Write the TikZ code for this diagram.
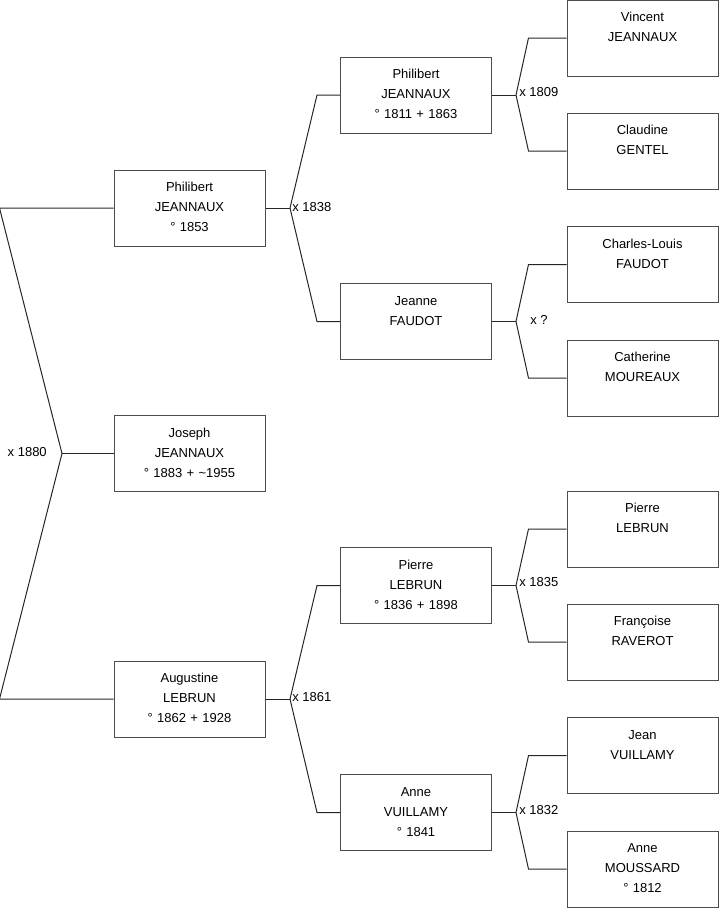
\documentclass[tikz,border=0pt]{standalone}
\usepackage{fontspec}
\setmainfont{Liberation Sans}

\begin{document}
\begin{tikzpicture}[
  x=0.75pt, y=-0.75pt,
  person/.style={draw=black!70, line width=0.75pt, text width=105.25pt, align=center,
                 inner xsep=4pt, inner ysep=4pt, text height=12.25pt, text depth=36.75pt,
                 font=\fontsize{9.75}{15}\selectfont},
  link/.style={draw=black!85, line width=0.75pt},
  wed/.style={font=\fontsize{9.75}{12}\selectfont, inner sep=0pt, anchor=west},
]
\useasboundingbox (0,0) rectangle (719,908);

%% ── GENERATION 0 ─────────────────────────────────────────────────────────────
\node[person] (joseph) at (189.5,453.5) {Joseph\\JEANNAUX\\° 1883 + \textasciitilde1955};

%% ── GENERATION 1: Parents ────────────────────────────────────────────────────
\node[person] (phil1) at (189.5,208) {Philibert\\JEANNAUX\\° 1853};
\node[person] (aug1)  at (189.5,699) {Augustine\\LEBRUN\\° 1862 + 1928};

%% ── GENERATION 2: Grandparents ───────────────────────────────────────────────
\node[person] (phil2)   at (416,95)    {Philibert\\JEANNAUX\\° 1811 + 1863};
\node[person] (jeanne2) at (416,321.5) {Jeanne\\FAUDOT};
\node[person] (pierre2) at (416,585.5) {Pierre\\LEBRUN\\° 1836 + 1898};
\node[person] (anne2)   at (416,812.5) {Anne\\VUILLAMY\\° 1841};

%% ── GENERATION 3: Great-grandparents ─────────────────────────────────────────
\node[person] (vincent3)   at (642.5,38)    {Vincent\\JEANNAUX};
\node[person] (claudine3)  at (642.5,151)   {Claudine\\GENTEL};
\node[person] (charles3)   at (642.5,264.5) {Charles-Louis\\FAUDOT};
\node[person] (catherine3) at (642.5,378)   {Catherine\\MOUREAUX};
\node[person] (pierre3)    at (642.5,529)   {Pierre\\LEBRUN};
\node[person] (francoise3) at (642.5,642)   {Françoise\\RAVEROT};
\node[person] (jean3)      at (642.5,755.5) {Jean\\VUILLAMY};
\node[person] (anne3)      at (642.5,869)   {Anne\\MOUSSARD\\° 1812};

%% ── JUNCTIONS ────────────────────────────────────────────────────────────────
\coordinate (m0) at (62,453.5);
\coordinate (m1) at (290,208);
\coordinate (m2) at (290,699);
\coordinate (m3) at (516,95);
\coordinate (m4) at (516,321.5);
\coordinate (m5) at (516,585.5);
\coordinate (m6) at (516,812.5);

%% ── CONNECTORS ───────────────────────────────────────────────────────────────
\draw[link] (joseph.west) -- (m0);
\draw[link] (m0) -- ([shift={(-114,0)}]phil1.west) -- (phil1.west);
\draw[link] (m0) -- ([shift={(-114,0)}]aug1.west) -- (aug1.west);

\draw[link] (phil1.east) -- (m1);
\draw[link] (m1) -- ([shift={(-23,0)}]phil2.west) -- (phil2.west);
\draw[link] (m1) -- ([shift={(-23,0)}]jeanne2.west) -- (jeanne2.west);
\draw[link] (aug1.east) -- (m2);
\draw[link] (m2) -- ([shift={(-23,0)}]pierre2.west) -- (pierre2.west);
\draw[link] (m2) -- ([shift={(-23,0)}]anne2.west) -- (anne2.west);

\draw[link] (phil2.east) -- (m3);
\draw[link] (m3) -- ([shift={(-38,0)}]vincent3.west) -- (vincent3.west);
\draw[link] (m3) -- ([shift={(-38,0)}]claudine3.west) -- (claudine3.west);
\draw[link] (jeanne2.east) -- (m4);
\draw[link] (m4) -- ([shift={(-38,0)}]charles3.west) -- (charles3.west);
\draw[link] (m4) -- ([shift={(-38,0)}]catherine3.west) -- (catherine3.west);
\draw[link] (pierre2.east) -- (m5);
\draw[link] (m5) -- ([shift={(-38,0)}]pierre3.west) -- (pierre3.west);
\draw[link] (m5) -- ([shift={(-38,0)}]francoise3.west) -- (francoise3.west);
\draw[link] (anne2.east) -- (m6);
\draw[link] (m6) -- ([shift={(-38,0)}]jean3.west) -- (jean3.west);
\draw[link] (m6) -- ([shift={(-38,0)}]anne3.west) -- (anne3.west);

%% ── MARRIAGES ────────────────────────────────────────────────────────────────
\node[wed, anchor=east] (w0) at (47,452) {x 1880};
\node[wed] (w1) at (292,207) {x 1838};
\node[wed] (w2) at (292,697) {x 1861};
\node[wed] (w3) at (519,92)  {x 1809};
\node[wed] (w4) at (530,320) {x ?};
\node[wed] (w5) at (519,582) {x 1835};
\node[wed] (w6) at (519,810) {x 1832};
\end{tikzpicture}
\end{document}
